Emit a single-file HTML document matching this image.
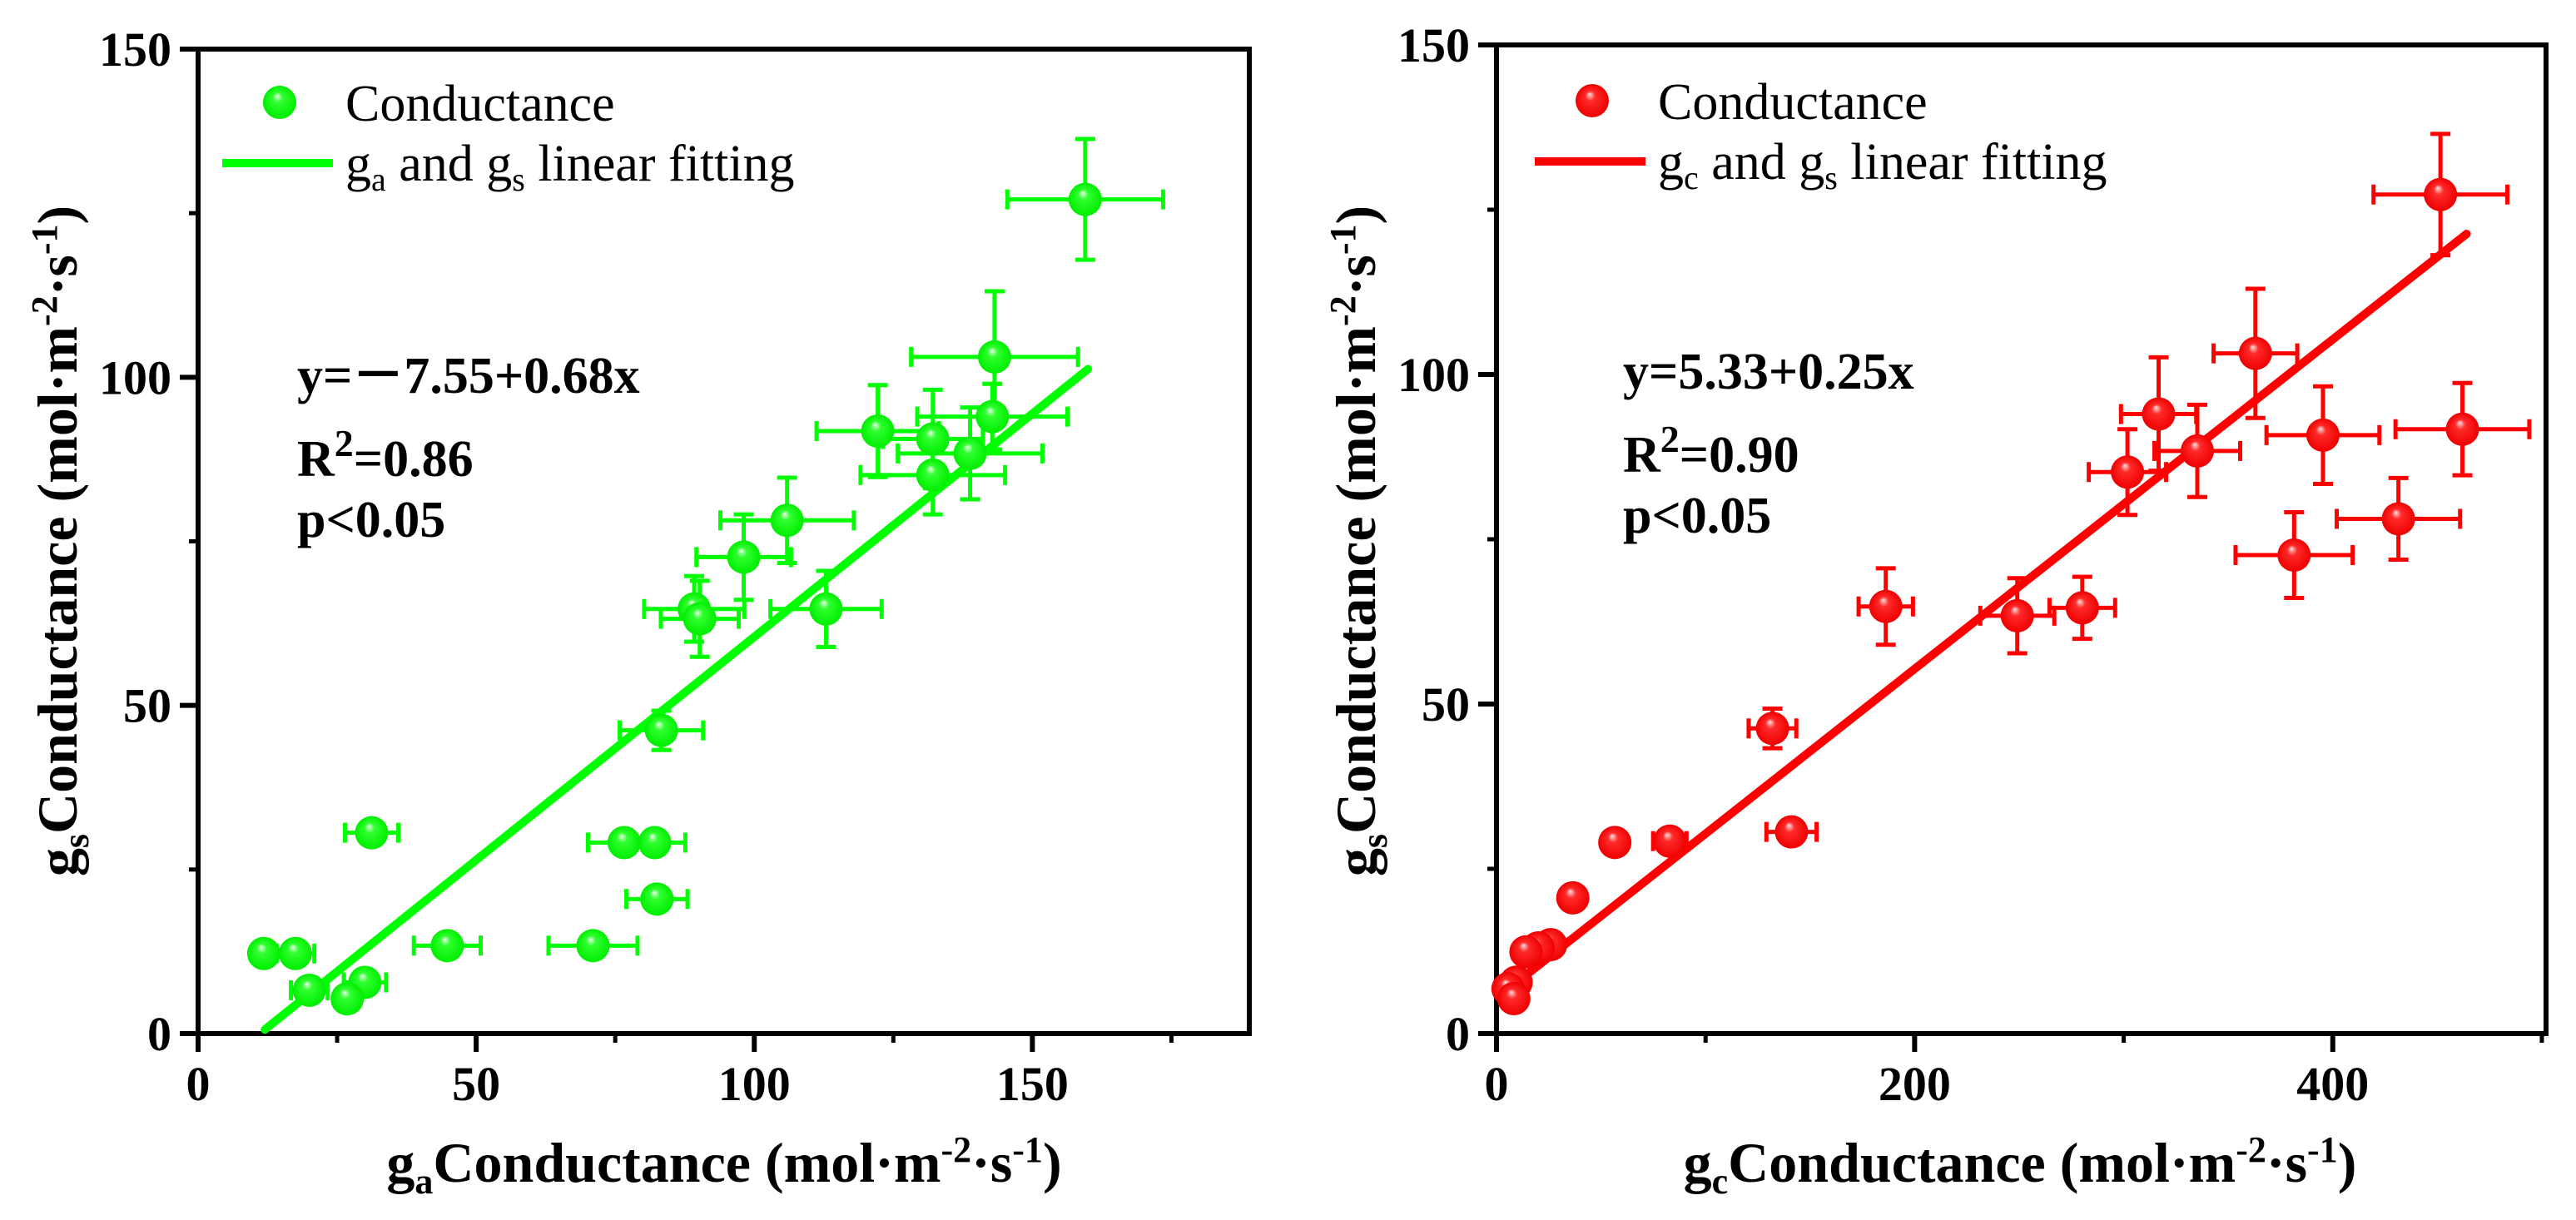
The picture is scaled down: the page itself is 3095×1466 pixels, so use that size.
<!DOCTYPE html>
<html><head><meta charset="utf-8"><style>
html,body{margin:0;padding:0;background:#fff}
svg{display:block;font-family:"Liberation Serif","Times New Roman",serif}
text{font-family:"Liberation Serif","Times New Roman",serif}
</style></head><body>
<svg id="chart" width="3095" height="1466" viewBox="0 0 3095 1466" xmlns="http://www.w3.org/2000/svg" font-family="Liberation Serif, serif">
<defs>
<radialGradient id="gG" cx="0.5" cy="0.5" r="0.5" fx="0.42" fy="0.3"><stop offset="0" stop-color="#e8ffe8"/><stop offset="0.3" stop-color="#30ff30"/><stop offset="1" stop-color="#00ee00"/></radialGradient>
<radialGradient id="gR" cx="0.5" cy="0.5" r="0.5" fx="0.42" fy="0.3"><stop offset="0" stop-color="#ffe0e0"/><stop offset="0.3" stop-color="#ff2a2a"/><stop offset="1" stop-color="#ee0000"/></radialGradient>
</defs>
<g id="p1"></g>
<g id="p2"></g>
</svg>
<script>
// Left panel data (ga vs gs)
const gaX = [159.5,143.2,142.8,122.2,132.1,138.8,132.1,105.9,98.1,89.2,90.2,112.9,83.3,31.2,76.6,82.1,82.5,44.8,71.0,11.8,17.5,20.0,30.0,26.8];
const gaY = [127.1,103.1,94.0,91.8,90.6,88.4,85.1,78.2,72.6,64.7,63.2,64.7,46.2,30.6,29.1,29.1,20.5,13.4,13.4,12.2,12.2,6.6,7.8,5.3];
const gaXErr = [14,15,13.5,11,9,13,13,12,8.5,9,7,10,7.5,4.8,6.5,5.5,5.5,6,8,0,3.4,3.3,3.8,2];
const gaYErr = [9.2,10,5,7,7.5,7,6,6.5,6.5,5,5.8,5.8,3,2,1.5,1.5,1.5,1,1,1,1,1,1,1];
const gaFit = [-7.55,0.68];
const gaFitRange = [12,160];
// Right panel data (gc vs gs)
const gcX = [451.5,363,316.7,395.3,462,335.2,301.8,431.4,381.5,186.2,249.1,280.2,132,141.1,56.6,82.9,36.5,25.9,20,14.1,9.4,5.5,8.3];
const gcY = [127.3,103.2,94,90.8,91.7,88.4,85.2,78.1,72.6,64.8,63.4,64.6,46.3,30.6,29,29.2,20.6,13.5,13,12.4,7.8,6.8,5.3];
const gcXErr = [32,20,18,27,32,20.5,18.5,29.5,28,13,17.7,15.7,11.4,12,3,8,2,2,2,2,2,2,2];
const gcYErr = [9.2,9.8,8.6,7.4,7,7,6.5,6.2,6.5,5.8,5.7,4.7,3,2,1.5,1.5,1,1,1,1,1,1,1];
const gcFit = [5.33,0.25];
const gcFitRange = [5,464];
const yTicks = [0,50,100,150];
const xTicks1 = [0,50,100,150];
const xTicks2 = [0,200,400];

const NS="http://www.w3.org/2000/svg";
const FF='"Liberation Serif", serif';
function mk(parent,tag,attrs,txt){const e=document.createElementNS(NS,tag);for(const k in attrs)e.setAttribute(k,attrs[k]);if(tag==='text'||tag==='g')e.setAttribute('font-family',FF);if(txt!==undefined)e.textContent=txt;parent.appendChild(e);return e;}

function panel(g,cfg){
  const sx=v=>cfg.x0+(v-cfg.xmin)/(cfg.xmax-cfg.xmin)*(cfg.x1-cfg.x0);
  const sy=v=>cfg.y0-(v)/(150)*(cfg.y0-cfg.y1);
  const fr=mk(g,'rect',{x:cfg.x0,y:cfg.y1,width:cfg.x1-cfg.x0,height:cfg.y0-cfg.y1,fill:'none',stroke:'#000','stroke-width':6});
  
  
  yTicks.forEach(t=>{
    const l=mk(g,'line',{x1:cfg.x0-22,x2:cfg.x0,y1:sy(t),y2:sy(t),stroke:'#000','stroke-width':6});
    
    
    const tx=mk(g,'text',{x:cfg.x0-32,y:sy(t)+20,'text-anchor':'end','font-size':58,'font-weight':'bold'},String(t));
    
    
  });
  [25,75,125].forEach(t=>{
    const l=mk(g,'line',{x1:cfg.x0-11,x2:cfg.x0,y1:sy(t),y2:sy(t),stroke:'#000','stroke-width':5});
    
    
  });
  cfg.xt.forEach(t=>{
    const l=mk(g,'line',{x1:sx(t),x2:sx(t),y1:cfg.y0,y2:cfg.y0+22,stroke:'#000','stroke-width':6});
    
    
    const tx=mk(g,'text',{x:sx(t),y:cfg.y0+80,'text-anchor':'middle','font-size':58,'font-weight':'bold'},String(t));
    
    
  });
  cfg.xm.forEach(t=>{
    const l=mk(g,'line',{x1:sx(t),x2:sx(t),y1:cfg.y0,y2:cfg.y0+11,stroke:'#000','stroke-width':5});
    
    
  });
  const fl=mk(g,'line',{x1:sx(cfg.fr[0]),y1:sy(cfg.fit[0]+cfg.fit[1]*cfg.fr[0]),x2:sx(cfg.fr[1]),y2:sy(cfg.fit[0]+cfg.fit[1]*cfg.fr[1]),stroke:cfg.col,'stroke-width':10,'stroke-linecap':'round'});
  
  
  cfg.X.forEach((x,i)=>{
    const y=cfg.Y[i],ex=cfg.XE[i],ey=cfg.YE[i];
    const eb=mk(g,'g',{stroke:cfg.col,'stroke-width':5,fill:'none'});
    
    
    const cx=sx(x),cy=sy(y);
    if(ex>0){const a=sx(x-ex),b=sx(x+ex);
      if(b-a>34){mk(eb,'line',{x1:a,x2:b,y1:cy,y2:cy});mk(eb,'line',{x1:a,x2:a,y1:cy-12,y2:cy+12});mk(eb,'line',{x1:b,x2:b,y1:cy-12,y2:cy+12});}}
    const a=sy(y+ey),b=sy(y-ey);
    if(b-a>34){mk(eb,'line',{x1:cx,x2:cx,y1:a,y2:b});mk(eb,'line',{x1:cx-12,x2:cx+12,y1:a,y2:a});mk(eb,'line',{x1:cx-12,x2:cx+12,y1:b,y2:b});}
  });
  cfg.X.forEach((x,i)=>{
    const c=mk(g,'circle',{cx:sx(x),cy:sy(cfg.Y[i]),r:20,fill:cfg.grad});
    
    
  });
  const lg=mk(g,'g',{});
  
  
  mk(lg,'circle',{cx:cfg.lx+69,cy:cfg.ly,r:20,fill:cfg.grad});
  mk(lg,'text',{x:cfg.lx+148,y:cfg.ly+22,'font-size':62},'Conductance');
  mk(lg,'line',{x1:cfg.lx,x2:cfg.lx+133,y1:cfg.ly+73,y2:cfg.ly+73,stroke:cfg.col,'stroke-width':10});
  const t2=mk(lg,'text',{x:cfg.lx+148,y:cfg.ly+94,'font-size':62});
  t2.innerHTML='g<tspan font-size="40" dy="12">'+cfg.sub+'</tspan><tspan dy="-12"> and g</tspan><tspan font-size="40" dy="12">s</tspan><tspan dy="-12"> linear fitting</tspan>';
  const an=mk(g,'g',{'font-size':62,'font-weight':'bold'});
  
  
  mk(an,'text',{x:cfg.ax,y:cfg.ay},cfg.eq);
  const r2=mk(an,'text',{x:cfg.ax,y:cfg.ay+100});
  r2.innerHTML='R<tspan font-size="46" dy="-24">2</tspan><tspan dy="24">'+cfg.r2+'</tspan>';
  mk(an,'text',{x:cfg.ax,y:cfg.ay+173},'p<0.05');
  const xt=mk(g,'text',{x:cfg.xtx,y:1420,'text-anchor':'middle','font-size':68,'font-weight':'bold'});
  xt.innerHTML='g<tspan font-size="44" dy="14">'+cfg.sub+'</tspan><tspan dy="-14">Conductance (mol·m</tspan><tspan font-size="44" dy="-24">-2</tspan><tspan dy="24">·s</tspan><tspan font-size="44" dy="-24">-1</tspan><tspan dy="24">)</tspan>';
  
  
  const yt=mk(g,'text',{x:0,y:0,'text-anchor':'middle','font-size':68,'font-weight':'bold',transform:'translate('+cfg.ytx+',650) rotate(-90)'});
  yt.innerHTML='g<tspan font-size="44" dy="14">s</tspan><tspan dy="-14">Conductance (mol·m</tspan><tspan font-size="44" dy="-24">-2</tspan><tspan dy="24">·s</tspan><tspan font-size="44" dy="-24">-1</tspan><tspan dy="24">)</tspan>';
  
  
}
panel(document.getElementById('p1'),{x0:238,x1:1501,y0:1242,y1:59,xmin:0,xmax:189,xt:xTicks1,xm:[25,75,125,175],
  X:gaX,Y:gaY,XE:gaXErr,YE:gaYErr,fit:gaFit,fr:gaFitRange,col:'#00ff00',grad:'url(#gG)',
  lx:267,ly:123,sub:'a',ax:357,ay:472,eq:'y=－7.55+0.68x',r2:'=0.86',xtx:870,ytx:92});
panel(document.getElementById('p2'),{x0:1798,x1:3059,y0:1242,y1:54,xmin:0,xmax:502,xt:xTicks2,xm:[100,300,500],
  X:gcX,Y:gcY,XE:gcXErr,YE:gcYErr,fit:gcFit,fr:gcFitRange,col:'#ff0000',grad:'url(#gR)',
  lx:1844,ly:121,sub:'c',ax:1950,ay:467,eq:'y=5.33+0.25x',r2:'=0.90',xtx:2427,ytx:1652});
</script>
</body></html>
